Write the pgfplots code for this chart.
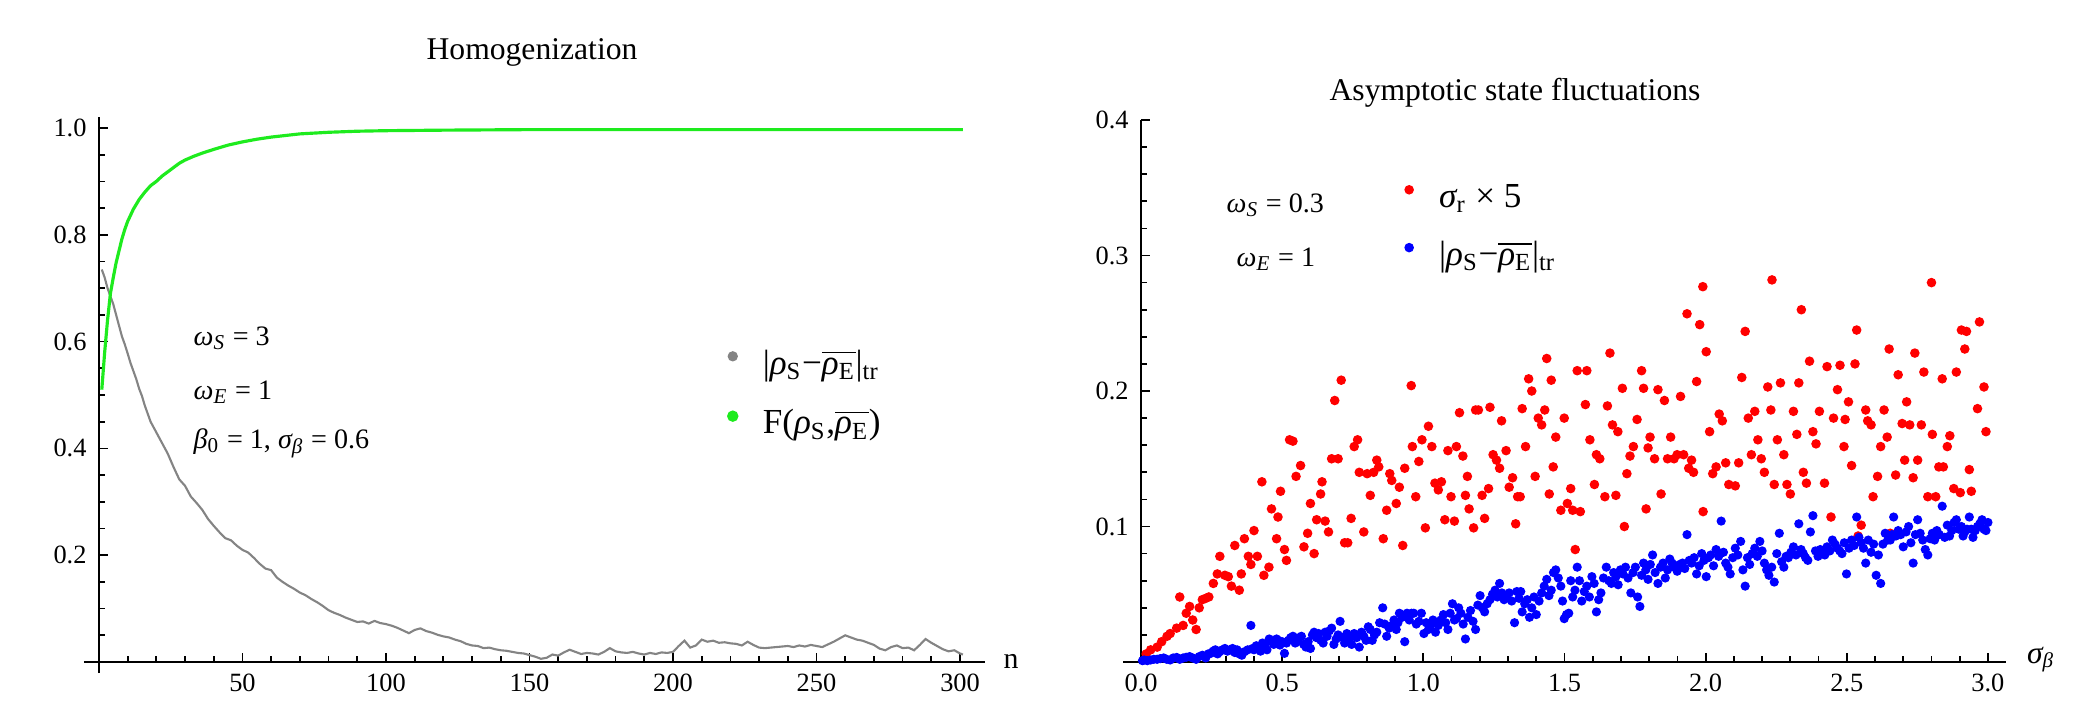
\documentclass[border=0pt]{standalone}
\usepackage{fontspec}
\setmainfont{Liberation Serif}
\usepackage{pgfplots}
\pgfplotsset{compat=1.18}

\definecolor{fgreen}{RGB}{30,235,30}
\definecolor{fgray}{RGB}{132,132,132}
\definecolor{fred}{RGB}{255,0,0}
\definecolor{fblue}{RGB}{0,0,255}

\newcommand{\sub}[1]{\textsubscript{#1}}
\newcommand{\rhobar}{$\overline{\hbox{\itshape ρ\textsubscript{\upshape E}}}$}

\pgfplotsset{
  mma/.style={
    scale only axis,
    axis lines=middle,
    axis line style={-, line width=0.55pt, black},
    tick align=inside,
    major tick length=0.9mm,
    minor tick length=0.6mm,
    every tick/.style={line width=0.5pt, black},
    every minor tick/.style={line width=0.5pt, black},
    tick label style={font=\fontsize{7.5}{8}\selectfont},
    /pgf/number format/assume math mode=true,
    scaled ticks=false,
    clip=false,
    legend cell align=left,
    legend image code/.code={\draw[##1, only marks, mark=*, mark size=1.15pt] plot coordinates {(0mm,0.9mm)};},
  },
}

\begin{document}
\begin{tikzpicture}
\useasboundingbox (0,0) rectangle (208.3mm,70mm);

% left panel
\begin{axis}[mma,
  at={(8.4mm,2.7mm)}, anchor=south west,
  width=90.1mm, height=55.6mm,
  xmin=-5.2, xmax=308.7, ymin=-0.0206, ymax=1.0206,
  xtick={50,100,150,200,250,300},
  minor xtick={10,20,...,300},
  ytick={0.2,0.4,0.6,0.8,1.0},
  minor ytick={0.05,0.1,...,1.0},
  xticklabel style={/pgf/number format/fixed, /pgf/number format/precision=0},
  yticklabel style={/pgf/number format/fixed, /pgf/number format/fixed zerofill, /pgf/number format/precision=1},
  legend style={draw=none, fill=none, inner sep=0pt, font=\fontsize{10}{11}\selectfont,
    at={(0.7148,0.5863)}, anchor=north west, row sep=2.47mm,
    nodes={inner sep=0pt, text height=7.5pt, text depth=2.5pt},
    /tikz/every odd column/.append style={column sep=2.6mm}},
]
\addplot[fgray, line width=0.6pt] table {
1 0.735
2 0.72
3 0.70
4 0.685
5 0.67
6 0.65
7 0.63
8 0.61
9 0.595
10 0.578
11 0.56
12 0.545
13 0.53
14 0.512
15 0.498
16 0.48
17 0.465
18 0.45
19 0.44
20 0.43
22 0.41
24 0.39
26 0.365
28 0.342
30 0.33
32 0.31
34 0.298
36 0.285
38 0.268
40 0.255
42 0.243
44 0.232
46 0.228
48 0.218
50 0.21
52 0.205
54 0.195
56 0.184
58 0.175
60 0.172
62 0.158
64 0.15
66 0.143
68 0.137
70 0.13
72 0.125
74 0.118
76 0.112
78 0.105
80 0.097
82 0.092
84 0.088
86 0.083
88 0.079
90 0.075
92 0.076
94 0.072
96 0.077
98 0.073
100 0.071
102 0.068
104 0.064
106 0.059
108 0.054
110 0.06
112 0.063
114 0.058
116 0.055
118 0.051
120 0.048
122 0.046
124 0.042
126 0.039
128 0.034
130 0.031
132 0.03
134 0.026
136 0.027
138 0.024
140 0.022
142 0.021
144 0.019
146 0.017
148 0.016
150 0.013
152 0.01
154 0.006
156 0.008
158 0.014
160 0.012
162 0.018
164 0.023
166 0.019
168 0.015
170 0.017
172 0.016
174 0.014
176 0.019
178 0.026
180 0.02
182 0.018
184 0.017
186 0.019
188 0.016
190 0.014
192 0.017
194 0.015
196 0.018
198 0.017
200 0.019
202 0.03
204 0.04
206 0.027
208 0.031
210 0.042
212 0.038
214 0.04
216 0.036
218 0.037
220 0.035
222 0.034
224 0.031
226 0.038
228 0.032
230 0.027
232 0.026
234 0.027
236 0.028
238 0.029
240 0.03
242 0.028
244 0.031
246 0.029
248 0.032
250 0.03
252 0.028
254 0.033
256 0.038
258 0.044
260 0.05
262 0.046
264 0.042
266 0.04
268 0.036
270 0.032
272 0.025
274 0.022
276 0.028
278 0.031
280 0.026
282 0.027
284 0.022
286 0.032
288 0.043
290 0.036
292 0.03
294 0.024
296 0.02
298 0.022
300 0.016
301 0.014
};
\addlegendentry{|{\itshape ρ}\sub{S}−\rhobar|\sub{tr}}
\addplot[fgreen, line width=0.9pt] table {
1 0.51
2 0.58
3 0.64
4 0.69
5 0.72
6 0.748
7 0.77
8 0.792
9 0.81
10 0.825
12 0.848
14 0.866
16 0.88
18 0.892
20 0.9
22 0.91
24 0.918
26 0.926
28 0.934
30 0.94
33 0.947
36 0.953
40 0.96
45 0.968
50 0.974
55 0.979
60 0.983
65 0.986
70 0.989
80 0.992
90 0.994
100 0.995
120 0.996
150 0.997
200 0.997
250 0.997
301 0.997
};
\addlegendentry{F({\itshape ρ}\sub{S},\rhobar)}
\end{axis}

% right panel
\begin{axis}[mma,
  at={(112.3mm,3.8mm)}, anchor=south west,
  width=88.3mm, height=54.2mm,
  xmin=-0.064, xmax=3.064, ymin=0, ymax=0.4,
  hide obscured x ticks=false,
  xtick={0,0.5,...,3.0},
  minor xtick={0.1,0.2,...,3.0},
  ytick={0.1,0.2,0.3,0.4},
  minor ytick={0.02,0.04,...,0.4},
  xticklabel style={/pgf/number format/fixed, /pgf/number format/fixed zerofill, /pgf/number format/precision=1},
  yticklabel style={/pgf/number format/fixed, /pgf/number format/fixed zerofill, /pgf/number format/precision=1},
  legend style={draw=none, fill=none, inner sep=0pt, font=\fontsize{10}{11}\selectfont,
    at={(0.3187,0.8884)}, anchor=north west, row sep=2.27mm,
    nodes={inner sep=0pt, text height=7.5pt, text depth=2.5pt},
    /tikz/every odd column/.append style={column sep=2.6mm}},
]
\addplot[only marks, mark=*, mark size=1.15pt, fred] table {
0.018 0.006
0.034 0.009
0.057 0.011
0.073 0.015
0.092 0.019
0.103 0.021
0.126 0.025
0.137 0.048
0.149 0.027
0.16 0.036
0.172 0.041
0.183 0.031
0.195 0.024
0.206 0.040
0.217 0.046
0.229 0.047
0.24 0.048
0.256 0.058
0.27 0.065
0.279 0.078
0.297 0.064
0.309 0.063
0.32 0.056
0.332 0.086
0.348 0.053
0.355 0.065
0.366 0.091
0.38 0.078
0.389 0.072
0.4 0.097
0.412 0.078
0.428 0.133
0.435 0.064
0.453 0.070
0.462 0.113
0.48 0.091
0.485 0.107
0.494 0.126
0.508 0.083
0.515 0.075
0.526 0.164
0.538 0.163
0.549 0.137
0.565 0.145
0.577 0.085
0.59 0.095
0.6 0.117
0.613 0.080
0.622 0.105
0.636 0.124
0.641 0.133
0.652 0.104
0.664 0.096
0.675 0.150
0.686 0.193
0.698 0.150
0.709 0.208
0.721 0.088
0.732 0.088
0.744 0.106
0.755 0.159
0.767 0.164
0.773 0.140
0.789 0.096
0.801 0.139
0.812 0.123
0.824 0.140
0.835 0.149
0.842 0.144
0.858 0.091
0.87 0.112
0.881 0.139
0.888 0.134
0.904 0.117
0.915 0.129
0.927 0.086
0.934 0.143
0.957 0.204
0.961 0.159
0.973 0.122
0.984 0.148
0.995 0.164
1.007 0.099
1.018 0.174
1.03 0.159
1.041 0.132
1.053 0.127
1.064 0.133
1.076 0.105
1.087 0.156
1.098 0.122
1.11 0.104
1.117 0.159
1.128 0.184
1.14 0.152
1.149 0.123
1.156 0.137
1.162 0.113
1.178 0.099
1.185 0.186
1.195 0.186
1.208 0.123
1.217 0.106
1.231 0.128
1.236 0.188
1.247 0.153
1.259 0.149
1.27 0.143
1.277 0.178
1.293 0.156
1.304 0.129
1.316 0.136
1.327 0.102
1.334 0.122
1.343 0.122
1.35 0.187
1.362 0.159
1.373 0.209
1.384 0.200
1.396 0.137
1.407 0.180
1.419 0.175
1.43 0.186
1.437 0.224
1.446 0.124
1.453 0.208
1.46 0.144
1.469 0.166
1.487 0.112
1.499 0.180
1.51 0.117
1.522 0.128
1.529 0.112
1.538 0.083
1.545 0.215
1.556 0.111
1.574 0.190
1.579 0.215
1.59 0.164
1.606 0.131
1.613 0.153
1.625 0.150
1.643 0.122
1.652 0.189
1.661 0.228
1.67 0.175
1.682 0.123
1.689 0.170
1.705 0.202
1.712 0.100
1.721 0.139
1.732 0.152
1.744 0.159
1.757 0.179
1.773 0.215
1.78 0.202
1.789 0.113
1.796 0.158
1.803 0.166
1.819 0.150
1.831 0.201
1.842 0.124
1.854 0.193
1.865 0.150
1.876 0.166
1.888 0.150
1.899 0.153
1.911 0.196
1.922 0.153
1.934 0.257
1.94 0.143
1.95 0.149
1.957 0.140
1.968 0.207
1.979 0.249
1.99 0.277
1.991 0.111
2.002 0.229
2.014 0.170
2.025 0.139
2.037 0.144
2.048 0.183
2.059 0.178
2.071 0.147
2.082 0.131
2.105 0.130
2.117 0.147
2.128 0.210
2.14 0.244
2.151 0.180
2.162 0.153
2.174 0.185
2.185 0.164
2.197 0.150
2.208 0.140
2.22 0.203
2.231 0.186
2.235 0.282
2.243 0.131
2.254 0.164
2.265 0.206
2.277 0.153
2.288 0.131
2.3 0.124
2.311 0.185
2.323 0.168
2.33 0.206
2.339 0.260
2.346 0.140
2.357 0.132
2.368 0.222
2.38 0.170
2.391 0.161
2.403 0.185
2.421 0.132
2.43 0.218
2.444 0.107
2.453 0.180
2.467 0.201
2.476 0.219
2.49 0.159
2.494 0.179
2.506 0.192
2.517 0.145
2.529 0.220
2.535 0.245
2.54 0.093
2.551 0.101
2.567 0.186
2.574 0.178
2.586 0.175
2.593 0.122
2.609 0.137
2.62 0.159
2.632 0.186
2.643 0.166
2.65 0.231
2.654 0.095
2.673 0.138
2.682 0.212
2.696 0.176
2.705 0.149
2.712 0.192
2.723 0.175
2.735 0.136
2.741 0.228
2.751 0.149
2.764 0.175
2.773 0.214
2.787 0.122
2.8 0.280
2.803 0.168
2.815 0.122
2.826 0.144
2.838 0.209
2.842 0.144
2.856 0.159
2.865 0.167
2.879 0.128
2.888 0.214
2.902 0.125
2.906 0.245
2.918 0.231
2.924 0.244
2.934 0.142
2.941 0.126
2.963 0.187
2.97 0.251
2.986 0.203
2.993 0.170
};
\addlegendentry{{\itshape σ}\sub{r} × 5}
\addplot[only marks, mark=*, mark size=1.1pt, fblue] table {
0.005 0.001
0.011 0.0015
0.022 0.001
0.034 0.0015
0.045 0.002
0.057 0.002
0.068 0.0025
0.08 0.003
0.091 0.002
0.103 0.0015
0.114 0.003
0.126 0.0034
0.137 0.002
0.149 0.003
0.16 0.0035
0.172 0.004
0.183 0.003
0.195 0.002
0.206 0.004
0.217 0.005
0.229 0.003
0.238 0.006
0.247 0.0064
0.255 0.008
0.263 0.009
0.271 0.006
0.279 0.0076
0.288 0.009
0.297 0.010
0.306 0.008
0.316 0.009
0.324 0.01
0.332 0.007
0.340 0.009
0.348 0.006
0.357 0.005
0.366 0.0076
0.378 0.009
0.389 0.027
0.395 0.01
0.4 0.009
0.408 0.012
0.416 0.011
0.423 0.008
0.43 0.014
0.438 0.012
0.446 0.009
0.454 0.017
0.462 0.015
0.47 0.013
0.48 0.017
0.486 0.016
0.492 0.0125
0.5 0.015
0.508 0.0064
0.515 0.014
0.522 0.016
0.53 0.018
0.538 0.019
0.546 0.014
0.554 0.015
0.56 0.018
0.568 0.019
0.576 0.013
0.584 0.011
0.592 0.015
0.6 0.010
0.607 0.02
0.613 0.022
0.621 0.018
0.629 0.021
0.637 0.016
0.645 0.014
0.652 0.022
0.659 0.019
0.667 0.023
0.675 0.025
0.683 0.013
0.691 0.017
0.698 0.02
0.705 0.030
0.713 0.018
0.721 0.014
0.729 0.021
0.737 0.017
0.746 0.013
0.755 0.021
0.764 0.018
0.773 0.011
0.781 0.022
0.789 0.019
0.797 0.016
0.805 0.026
0.812 0.024
0.819 0.016
0.827 0.02
0.835 0.022
0.845 0.029
0.856 0.040
0.863 0.028
0.87 0.019
0.879 0.025
0.888 0.027
0.896 0.031
0.904 0.024
0.91 0.029
0.915 0.036
0.925 0.033
0.934 0.015
0.942 0.036
0.95 0.031
0.958 0.036
0.966 0.036
0.975 0.028
0.984 0.030
0.993 0.036
1.002 0.021
1.01 0.029
1.018 0.024
1.026 0.027
1.034 0.031
1.043 0.022
1.053 0.027
1.062 0.031
1.071 0.035
1.079 0.029
1.087 0.024
1.095 0.036
1.103 0.043
1.11 0.031
1.117 0.032
1.125 0.04
1.133 0.036
1.141 0.028
1.149 0.017
1.158 0.033
1.167 0.038
1.176 0.03
1.185 0.024
1.193 0.042
1.201 0.049
1.209 0.04
1.217 0.037
1.226 0.043
1.236 0.046
1.245 0.05
1.254 0.053
1.262 0.048
1.27 0.058
1.278 0.051
1.286 0.046
1.295 0.049
1.304 0.051
1.313 0.045
1.323 0.029
1.331 0.052
1.339 0.047
1.345 0.052
1.35 0.037
1.359 0.043
1.368 0.046
1.376 0.033
1.384 0.040
1.392 0.048
1.4 0.035
1.41 0.045
1.419 0.051
1.428 0.056
1.437 0.061
1.445 0.049
1.453 0.053
1.461 0.066
1.469 0.068
1.478 0.062
1.487 0.056
1.493 0.045
1.499 0.032
1.507 0.035
1.515 0.036
1.522 0.06
1.529 0.048
1.537 0.053
1.545 0.070
1.553 0.06
1.561 0.045
1.57 0.052
1.579 0.056
1.588 0.048
1.597 0.063
1.605 0.058
1.613 0.037
1.621 0.046
1.629 0.051
1.638 0.062
1.648 0.070
1.657 0.06
1.666 0.058
1.674 0.066
1.682 0.063
1.69 0.057
1.698 0.068
1.707 0.065
1.716 0.070
1.725 0.062
1.735 0.051
1.743 0.066
1.751 0.070
1.759 0.048
1.767 0.041
1.773 0.064
1.78 0.073
1.788 0.068
1.796 0.061
1.804 0.072
1.812 0.079
1.821 0.066
1.831 0.058
1.84 0.07
1.849 0.073
1.857 0.062
1.865 0.068
1.873 0.076
1.881 0.073
1.89 0.07
1.899 0.067
1.908 0.072
1.918 0.073
1.926 0.069
1.934 0.094
1.942 0.075
1.95 0.073
1.959 0.077
1.968 0.065
1.977 0.071
1.986 0.080
1.994 0.075
2.002 0.063
2.01 0.077
2.018 0.079
2.028 0.071
2.037 0.083
2.046 0.078
2.055 0.104
2.063 0.081
2.071 0.073
2.079 0.07
2.087 0.065
2.096 0.077
2.105 0.084
2.114 0.079
2.124 0.089
2.132 0.068
2.14 0.056
2.148 0.077
2.156 0.072
2.165 0.08
2.174 0.084
2.183 0.078
2.192 0.089
2.2 0.082
2.208 0.073
2.216 0.068
2.224 0.064
2.234 0.07
2.243 0.059
2.252 0.08
2.261 0.095
2.269 0.074
2.277 0.070
2.285 0.078
2.293 0.077
2.302 0.081
2.311 0.085
2.32 0.079
2.33 0.102
2.338 0.083
2.346 0.080
2.354 0.077
2.362 0.075
2.371 0.096
2.38 0.108
2.389 0.082
2.398 0.078
2.406 0.083
2.414 0.080
2.422 0.079
2.43 0.085
2.44 0.082
2.449 0.090
2.458 0.087
2.467 0.084
2.475 0.082
2.483 0.080
2.491 0.088
2.499 0.065
2.508 0.084
2.517 0.090
2.526 0.086
2.535 0.107
2.543 0.092
2.551 0.088
2.559 0.084
2.567 0.073
2.576 0.09
2.586 0.081
2.595 0.087
2.604 0.064
2.612 0.079
2.62 0.058
2.628 0.087
2.636 0.095
2.645 0.09
2.654 0.090
2.66 0.094
2.666 0.107
2.674 0.093
2.682 0.097
2.691 0.094
2.7 0.085
2.71 0.096
2.719 0.100
2.727 0.088
2.735 0.073
2.743 0.094
2.751 0.105
2.76 0.095
2.769 0.090
2.778 0.083
2.787 0.079
2.795 0.091
2.803 0.095
2.811 0.09
2.819 0.097
2.828 0.094
2.838 0.115
2.847 0.092
2.856 0.101
2.864 0.093
2.872 0.097
2.88 0.103
2.888 0.105
2.897 0.098
2.906 0.100
2.912 0.093
2.918 0.096
2.926 0.098
2.934 0.107
2.941 0.098
2.947 0.092
2.955 0.097
2.963 0.100
2.971 0.102
2.979 0.105
2.986 0.098
2.993 0.097
3.0 0.103
};
\addlegendentry{|{\itshape ρ}\sub{S}−\rhobar|\sub{tr}}
\end{axis}

% titles, axis names and parameter notes, placed in reference pixels
\begin{scope}[x=0.1mm, y=-0.1mm, shift={(0,70mm)}]
\node[font=\fontsize{9}{10}\selectfont] at (532,52) {Homogenization};
\node[font=\fontsize{9}{10}\selectfont] at (1515,93) {Asymptotic state fluctuations};
\node[font=\fontsize{8.5}{9}\selectfont] at (1011,661) {n};
\node[font=\fontsize{9}{10}\selectfont] at (2041,660) {{\itshape σ}\sub{\itshape β}};
\begin{scope}[every node/.style={anchor=west, inner sep=0pt, font=\fontsize{8}{9}\selectfont}]
\node at (193,338) {{\itshape ω}\sub{\itshape S} = 3};
\node at (193,392) {{\itshape ω}\sub{\itshape E} = 1};
\node at (193,443) {{\itshape β}\sub{0} = 1, {\itshape σ}\sub{\itshape β} = 0.6};
\node at (1226,205) {{\itshape ω}\sub{\itshape S} = 0.3};
\node at (1236,259) {{\itshape ω}\sub{\itshape E} = 1};
\end{scope}
\end{scope}
\end{tikzpicture}
\end{document}
